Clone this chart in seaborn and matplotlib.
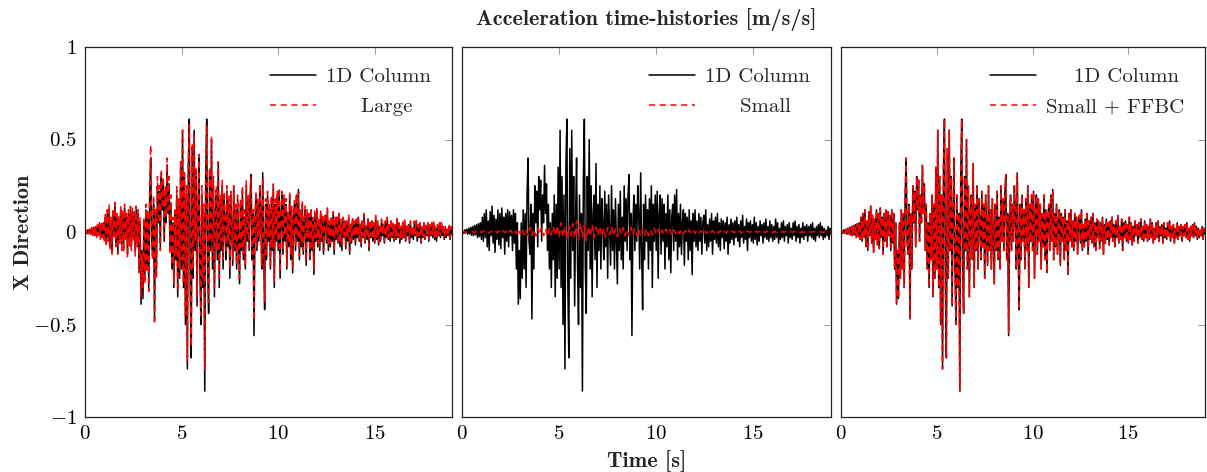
import numpy as np
import pandas as pd
import matplotlib
matplotlib.use("Agg")
import matplotlib.pyplot as plt
import seaborn as sns

DT = 0.05
DT_SMALL = 0.1

column_1d = [
    0, 0.005, -0.008, 0.012, -0.006, 0.015, -0.012, 0.02, -0.01, 0.025, -0.018, 0.03, -0.02, 0.035, -0.015, 0.04, -0.03, 0.045, -0.025, 0.05,
    -0.04, 0.08, -0.05, 0.1, -0.03, 0.12, -0.08, 0.06, -0.1, 0.11, -0.02, 0.14, -0.06, 0.09, -0.11, 0.07, -0.04, 0.12, -0.07, 0.1,
    -0.09, 0.13, -0.03, 0.08, -0.12, 0.1, -0.05, 0.12, -0.08, 0.11, -0.02, 0.09, -0.1, 0.12, -0.06, 0.1, -0.2, 0.05, -0.39, -0.1,
    -0.36, 0.05, -0.25, 0.12, -0.2, 0.1, -0.3, 0.2, 0.4, -0.05, -0.12, 0.15, -0.47, 0.1, -0.2, 0.25, 0.05, 0.22, -0.08, 0.3,
    0.12, 0.28, -0.05, 0.2, 0.05, 0.36, 0.1, 0.26, -0.1, 0.15, -0.2, 0.05, -0.3, 0.1, -0.15, 0.2, -0.35, 0.15, -0.25, 0.35,
    -0.2, 0.55, -0.3, 0.3, -0.5, 0.2, -0.74, 0.35, 0.61, -0.3, -0.68, 0.45, -0.25, 0.55, -0.1, 0.3, -0.4, 0.1, 0.4, -0.2,
    -0.5, 0.2, -0.3, 0.1, -0.86, 0.3, 0.61, -0.2, -0.44, 0.3, -0.1, 0.5, -0.2, 0.25, -0.35, 0.1, 0.2, -0.15, 0.37, -0.3,
    0.15, -0.1, 0.25, -0.2, 0.18, 0.05, -0.15, 0.22, -0.08, 0.15, -0.25, 0.2, 0.02, -0.18, 0.25, -0.1, 0.12, -0.2, 0.18, -0.05,
    -0.28, 0.15, -0.1, 0.22, -0.15, 0.08, -0.2, 0.25, -0.05, 0.18, -0.1, 0.2, 0.31, -0.15, 0.1, -0.56, 0.05, 0.2, -0.1, 0.15,
    -0.05, 0.25, 0.1, -0.2, 0.32, -0.1, -0.42, 0.15, -0.15, 0.2, -0.05, 0.12, -0.2, 0.18, -0.1, 0.25, -0.3, 0.15, -0.05, 0.2,
    -0.1, 0.22, -0.25, 0.1, 0.2, -0.12, 0.18, -0.05, 0.15, -0.2, 0.1, -0.08, 0.2, -0.15, 0.12, -0.22, 0.08, 0.15, -0.1, 0.2,
    -0.05, 0.23, -0.15, 0.1, -0.08, 0.15, -0.12, 0.05, 0.12, -0.18, 0.1, -0.05, 0.08, -0.15, 0.12, -0.1, 0.06, -0.23, 0.1, -0.05,
    0.12, -0.08, 0.06, -0.1, 0.1, -0.05, 0.08, -0.12, 0.05, 0.09, -0.06, 0.12, -0.1, 0.04, -0.08, 0.07, -0.05, 0.1, -0.12, 0.06,
    -0.04, 0.08, -0.06, 0.1, -0.08, 0.05, -0.1, 0.07, -0.03, 0.06, -0.09, 0.05, -0.05, 0.08, -0.12, 0.04, -0.06, 0.07, -0.04, 0.05,
    -0.07, 0.06, -0.03, 0.08, -0.05, 0.04, -0.08, 0.06, -0.03, 0.09, -0.06, 0.03, -0.04, 0.07, -0.1, 0.05, -0.03, 0.06, -0.05, 0.04,
    -0.06, 0.08, -0.04, 0.05, -0.07, 0.03, -0.05, 0.06, -0.02, 0.04, -0.06, 0.05, -0.03, 0.07, -0.04, 0.03, -0.05, 0.06, -0.03, 0.04,
    -0.05, 0.03, -0.04, 0.07, -0.03, 0.05, -0.06, 0.02, -0.04, 0.05, -0.03, 0.06, -0.05, 0.03, -0.02, 0.04, -0.06, 0.05, -0.03, 0.02,
    -0.04, 0.05, -0.02, 0.06, -0.05, 0.03, -0.03, 0.04, -0.06, 0.02, -0.03, 0.05, -0.04, 0.03, -0.02, 0.04, -0.05, 0.03, -0.02, 0.04,
    -0.03, 0.05, -0.04, 0.02, -0.05, 0.03, -0.02, 0.04, -0.03, 0.05, -0.02, 0.03, -0.04, 0.02, -0.03, 0.01, -0.02, 0.03, -0.04, 0.02, -0.01,
]

large = [
    0, 0.01, -0.01, 0.015, -0.01, 0.02, -0.015, 0.025, -0.02, 0.03, -0.025, 0.035, -0.03, 0.04, -0.02, 0.05, -0.04, 0.055, -0.03, 0.06,
    -0.06, 0.1, -0.08, 0.12, -0.05, 0.15, -0.1, 0.08, -0.13, 0.12, -0.04, 0.16, -0.08, 0.1, -0.12, 0.09, -0.06, 0.14, -0.1, 0.12,
    -0.11, 0.15, -0.05, 0.1, -0.14, 0.12, -0.08, 0.14, -0.1, 0.13, -0.05, 0.11, -0.13, 0.14, -0.08, 0.12, -0.22, 0.08, -0.35, -0.12,
    -0.3, 0.08, -0.28, 0.15, -0.22, 0.12, -0.32, 0.25, 0.47, -0.08, -0.15, 0.2, -0.5, 0.12, -0.25, 0.3, 0.08, 0.25, -0.1, 0.34,
    0.15, 0.3, -0.02, 0.25, 0.08, 0.4, 0.12, 0.3, -0.12, 0.2, -0.18, 0.08, -0.28, 0.12, -0.12, 0.25, -0.32, 0.18, -0.2, 0.38,
    -0.15, 0.55, -0.28, 0.32, -0.45, 0.25, -0.7, 0.38, 0.58, -0.25, -0.62, 0.48, -0.2, 0.52, -0.05, 0.35, -0.35, 0.15, 0.42, -0.15,
    -0.45, 0.25, -0.25, 0.15, -0.75, 0.35, 0.58, -0.15, -0.38, 0.35, -0.05, 0.52, -0.15, 0.3, -0.3, 0.15, 0.25, -0.1, 0.38, -0.25,
    0.2, -0.05, 0.28, -0.15, 0.22, 0.1, -0.1, 0.25, -0.05, 0.2, -0.2, 0.22, 0.05, -0.15, 0.25, -0.08, 0.15, -0.18, 0.2, -0.02,
    -0.25, 0.18, -0.08, 0.25, -0.12, 0.12, -0.18, 0.28, -0.02, 0.2, -0.08, 0.22, 0.3, -0.12, 0.12, -0.48, 0.08, 0.22, -0.08, 0.18,
    -0.02, 0.26, 0.12, -0.18, 0.3, -0.08, -0.38, 0.18, -0.12, 0.22, -0.02, 0.15, -0.18, 0.2, -0.08, 0.26, -0.27, 0.18, -0.02, 0.22,
    -0.08, 0.24, -0.22, 0.12, 0.22, -0.1, 0.2, -0.02, 0.18, -0.18, 0.12, -0.06, 0.22, -0.12, 0.14, -0.2, 0.1, 0.17, -0.08, 0.21,
    -0.03, 0.22, -0.13, 0.12, -0.06, 0.17, -0.1, 0.07, 0.14, -0.16, 0.12, -0.03, 0.1, -0.13, 0.13, -0.08, 0.08, -0.2, 0.12, -0.03,
    0.13, -0.06, 0.08, -0.08, 0.12, -0.03, 0.1, -0.1, 0.07, 0.1, -0.04, 0.13, -0.08, 0.06, -0.06, 0.09, -0.03, 0.11, -0.1, 0.08,
    -0.02, 0.09, -0.05, 0.11, -0.06, 0.07, -0.08, 0.08, -0.02, 0.07, -0.07, 0.06, -0.03, 0.09, -0.1, 0.05, -0.05, 0.08, -0.03, 0.06,
    -0.05, 0.07, -0.02, 0.09, -0.04, 0.05, -0.06, 0.07, -0.02, 0.1, -0.05, 0.04, -0.03, 0.08, -0.08, 0.06, -0.02, 0.07, -0.04, 0.05,
    -0.05, 0.09, -0.03, 0.06, -0.06, 0.04, -0.04, 0.07, -0.01, 0.05, -0.05, 0.06, -0.02, 0.08, -0.03, 0.04, -0.04, 0.07, -0.02, 0.05,
    -0.04, 0.04, -0.03, 0.08, -0.02, 0.06, -0.05, 0.03, -0.03, 0.06, -0.02, 0.07, -0.04, 0.04, -0.01, 0.05, -0.05, 0.06, -0.02, 0.03,
    -0.03, 0.06, -0.01, 0.07, -0.04, 0.04, -0.02, 0.05, -0.05, 0.03, -0.02, 0.06, -0.03, 0.04, -0.01, 0.05, -0.04, 0.04, -0.01, 0.05,
    -0.02, 0.06, -0.03, 0.03, -0.04, 0.04, -0.01, 0.05, -0.02, 0.06, -0.01, 0.04, -0.03, 0.03, -0.02, 0.02, -0.01, 0.04, -0.03, 0.03, -0.02,
]

small = [
    0, 0.002, -0.003, 0.004, -0.002, 0.005, -0.004, 0.003, -0.005, 0.004,
    -0.003, 0.006, -0.005, 0.004, -0.006, 0.005, -0.004, 0.007, -0.005, 0.006,
    -0.006, 0.008, -0.004, 0.006, -0.008, 0.01, -0.006, 0.012, -0.01, 0.015,
    -0.012, 0.02, -0.015, 0.01, -0.02, 0.025, -0.018, 0.015, -0.022, 0.02,
    -0.015, 0.025, -0.02, 0.018, -0.025, 0.02, -0.015, 0.03, -0.02, 0.035,
    -0.03, 0.05, -0.025, 0.03, -0.04, 0.035, -0.02, 0.045, -0.035, 0.06,
    -0.04, 0.05, -0.03, 0.035, -0.045, 0.03, -0.025, 0.04, -0.03, 0.025,
    -0.02, 0.03, -0.025, 0.02, -0.03, 0.025, -0.015, 0.03, -0.02, 0.015,
    -0.025, 0.02, -0.015, 0.025, -0.02, 0.015, -0.02, 0.025, -0.015, 0.02,
    -0.02, 0.015, -0.025, 0.02, -0.015, 0.018, -0.02, 0.012, -0.015, 0.02,
    -0.012, 0.015, -0.018, 0.01, -0.012, 0.015, -0.01, 0.012, -0.015, 0.01,
    -0.01, 0.012, -0.008, 0.01, -0.012, 0.008, -0.01, 0.012, -0.008, 0.01,
    -0.008, 0.01, -0.006, 0.008, -0.01, 0.006, -0.008, 0.01, -0.005, 0.008,
    -0.006, 0.008, -0.005, 0.006, -0.008, 0.005, -0.006, 0.007, -0.004, 0.006,
    -0.005, 0.006, -0.004, 0.005, -0.006, 0.004, -0.005, 0.006, -0.003, 0.005,
    -0.004, 0.005, -0.003, 0.004, -0.005, 0.003, -0.004, 0.005, -0.003, 0.004,
    -0.003, 0.004, -0.003, 0.003, -0.004, 0.003, -0.002, 0.004, -0.003, 0.003,
    -0.002, 0.003, -0.003, 0.002, -0.003, 0.002, -0.002, 0.003, -0.002, 0.002,
    -0.002, 0.003, -0.001, 0.002, -0.002, 0.001, -0.002, 0.002, -0.001, 0.002, -0.001,
]

small_ffbc = [
    0, 0.005, -0.008, 0.012, -0.006, 0.015, -0.012, 0.02, -0.01, 0.025, -0.018, 0.03, -0.02, 0.035, -0.015, 0.04, -0.03, 0.045, -0.025, 0.05,
    -0.04, 0.08, -0.05, 0.1, -0.03, 0.12, -0.08, 0.06, -0.1, 0.11, -0.02, 0.14, -0.06, 0.09, -0.11, 0.07, -0.04, 0.12, -0.07, 0.1,
    -0.09, 0.13, -0.03, 0.08, -0.12, 0.1, -0.05, 0.12, -0.08, 0.11, -0.02, 0.09, -0.1, 0.12, -0.06, 0.1, -0.2, 0.05, -0.38, -0.1,
    -0.36, 0.05, -0.25, 0.12, -0.2, 0.1, -0.3, 0.2, 0.4, -0.05, -0.12, 0.15, -0.47, 0.1, -0.2, 0.25, 0.05, 0.22, -0.08, 0.3,
    0.12, 0.28, -0.05, 0.2, 0.05, 0.36, 0.1, 0.26, -0.1, 0.15, -0.2, 0.05, -0.3, 0.1, -0.15, 0.2, -0.35, 0.15, -0.25, 0.35,
    -0.2, 0.55, -0.3, 0.3, -0.5, 0.2, -0.74, 0.35, 0.61, -0.3, -0.68, 0.45, -0.25, 0.55, -0.1, 0.3, -0.4, 0.1, 0.4, -0.2,
    -0.5, 0.2, -0.3, 0.1, -0.86, 0.3, 0.61, -0.2, -0.44, 0.3, -0.1, 0.5, -0.2, 0.25, -0.35, 0.1, 0.2, -0.15, 0.37, -0.3,
    0.15, -0.1, 0.25, -0.2, 0.18, 0.05, -0.15, 0.22, -0.08, 0.15, -0.25, 0.2, 0.02, -0.18, 0.25, -0.1, 0.12, -0.2, 0.18, -0.05,
    -0.28, 0.15, -0.1, 0.22, -0.15, 0.08, -0.2, 0.25, -0.05, 0.18, -0.1, 0.2, 0.31, -0.15, 0.1, -0.55, 0.05, 0.2, -0.1, 0.15,
    -0.05, 0.25, 0.1, -0.2, 0.32, -0.1, -0.42, 0.15, -0.15, 0.2, -0.05, 0.12, -0.2, 0.18, -0.1, 0.25, -0.3, 0.15, -0.05, 0.2,
    -0.1, 0.22, -0.25, 0.1, 0.2, -0.12, 0.18, -0.05, 0.15, -0.2, 0.1, -0.08, 0.2, -0.15, 0.12, -0.22, 0.08, 0.15, -0.1, 0.2,
    -0.05, 0.23, -0.15, 0.1, -0.08, 0.15, -0.12, 0.05, 0.12, -0.18, 0.1, -0.05, 0.08, -0.15, 0.12, -0.1, 0.06, -0.23, 0.1, -0.05,
    0.12, -0.08, 0.06, -0.1, 0.1, -0.05, 0.08, -0.12, 0.05, 0.09, -0.06, 0.12, -0.1, 0.04, -0.08, 0.07, -0.05, 0.1, -0.12, 0.06,
    -0.04, 0.08, -0.06, 0.1, -0.08, 0.05, -0.1, 0.07, -0.03, 0.06, -0.09, 0.05, -0.05, 0.08, -0.12, 0.04, -0.06, 0.07, -0.04, 0.05,
    -0.07, 0.06, -0.03, 0.08, -0.05, 0.04, -0.08, 0.06, -0.03, 0.09, -0.06, 0.03, -0.04, 0.07, -0.1, 0.05, -0.03, 0.06, -0.05, 0.04,
    -0.06, 0.08, -0.04, 0.05, -0.07, 0.03, -0.05, 0.06, -0.02, 0.04, -0.06, 0.05, -0.03, 0.07, -0.04, 0.03, -0.05, 0.06, -0.03, 0.04,
    -0.05, 0.03, -0.04, 0.07, -0.03, 0.05, -0.06, 0.02, -0.04, 0.05, -0.03, 0.06, -0.05, 0.03, -0.02, 0.04, -0.06, 0.05, -0.03, 0.02,
    -0.04, 0.05, -0.02, 0.06, -0.05, 0.03, -0.03, 0.04, -0.06, 0.02, -0.03, 0.05, -0.04, 0.03, -0.02, 0.04, -0.05, 0.03, -0.02, 0.04,
    -0.03, 0.05, -0.04, 0.02, -0.05, 0.03, -0.02, 0.04, -0.03, 0.05, -0.02, 0.03, -0.04, 0.02, -0.03, 0.01, -0.02, 0.03, -0.04, 0.02, -0.01,
]

panel_labels = ["Large", "Small", "Small + FFBC"]
x_ticks = [0, 5, 10, 15]
y_ticks = [-1, -0.5, 0, 0.5, 1]

sns.set_theme(style="white")
plt.rcParams["font.family"] = ["cmr10", "DejaVu Serif"]
plt.rcParams["axes.formatter.use_mathtext"] = True
plt.rcParams["mathtext.fontset"] = "cm"

t_main = np.arange(len(column_1d)) * DT
t_small = np.arange(len(small)) * DT_SMALL

fig = plt.figure(figsize=(12.07, 4.72), dpi=100)
W, H = 1207, 472
lefts = [85, 462, 841]
widths = [367, 369, 364]
axes = [fig.add_axes([l / W, 55 / H, w / W, 370 / H]) for l, w in zip(lefts, widths)]

comparisons = [
    (t_main, large),
    (t_small, small),
    (t_main, small_ffbc),
]
legend_text = [
    ["1D Column", "     Large"],
    ["1D Column", "     Small"],
    ["    1D Column", "Small + FFBC"],
]

for i, ax in enumerate(axes):
    sns.lineplot(x=t_main, y=column_1d, ax=ax, color="black", lw=1.1,
                 label="1D Column", estimator=None, sort=False)
    tx, ys = comparisons[i]
    sns.lineplot(x=tx, y=ys, ax=ax, color="red", lw=1.1, linestyle=(0, (4, 3)),
                 label=panel_labels[i], estimator=None, sort=False)
    ax.set_xlim(0, 19)
    ax.set_ylim(-1, 1)
    ax.set_xticks(x_ticks)
    ax.set_yticks(y_ticks)
    ax.tick_params(direction="in", length=5, width=0.6, color="#888888",
                   top=True, right=True, labelsize=15, pad=6, labelcolor="black")
    for s in ax.spines.values():
        s.set_color("#222222")
        s.set_linewidth(0.9)
    if i > 0:
        ax.set_yticklabels([])
    else:
        ax.set_yticklabels(["$-1$", "$-0.5$", "$0$", "$0.5$", "$1$"])
    ax.set_xticklabels(["$0$", "$5$", "$10$", "$15$"])
    ax.set_xlabel("")
    ax.set_ylabel("")
    handles, labels = ax.get_legend_handles_labels()
    ax.legend(handles, legend_text[i], loc="upper right", frameon=False, fontsize=15,
              handlelength=2.2, handletextpad=0.5, labelspacing=0.55,
              borderaxespad=0.6)

fig.text((462 + 831) / 2 / W, 1 - 20 / H, "Acceleration time-histories [m/s/s]",
         ha="center", va="center", fontsize=16, family=["cmb10", "DejaVu Serif"])
fig.text((462 + 831) / 2 / W, 1 - 461 / H, "Time [s]",
         ha="center", va="center", fontsize=16, family=["cmb10", "DejaVu Serif"])
fig.text(24 / W, 1 - 232 / H, "X Direction", rotation=90,
         ha="center", va="center", fontsize=16, family=["cmb10", "DejaVu Serif"])

fig.savefig("out.png", dpi=100)
